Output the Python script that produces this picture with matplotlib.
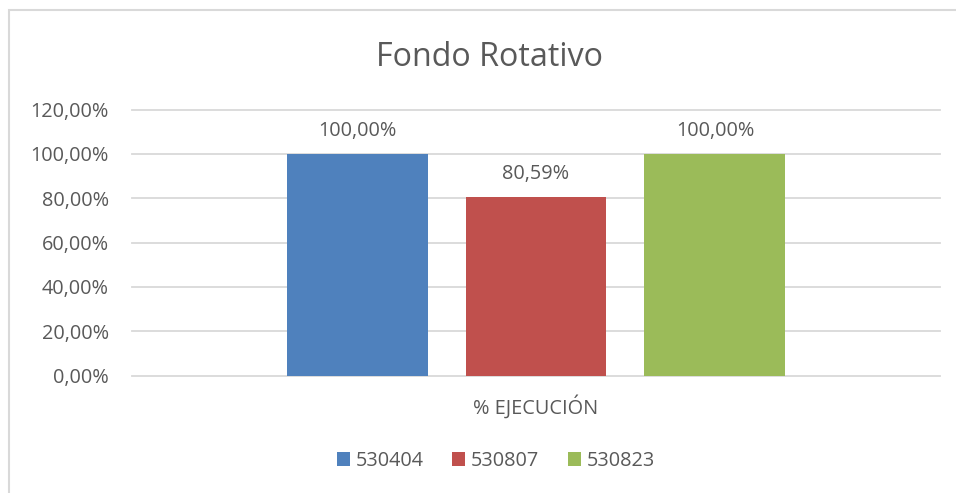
import matplotlib.pyplot as plt
from matplotlib.patches import Patch, Rectangle
from matplotlib.ticker import FuncFormatter

plt.rcParams['font.family'] = ['Open Sans', 'DejaVu Sans']

# datos del fondo rotativo
cuentas = ['530404', '530807', '530823']
ejecucion = [1.00, 0.8059, 1.00]
colores = ['#4f81bd', '#c0504d', '#9bbb59']
categoria = '% EJECUCIÓN'

texto = '#595959'
rejilla = '#d9d9d9'
fs = 14.3

fig = plt.figure(figsize=(9.56, 4.93), dpi=100)

# marco del grafico
fig.patches.append(Rectangle((9 / 956, -0.1), 1.2, (493 - 10) / 493 + 0.1,
                             transform=fig.transFigure, fill=False,
                             edgecolor=rejilla, linewidth=1.5))

ax = fig.add_axes([132 / 956, 117.5 / 493, 808 / 956, 266 / 493])

ancho = 0.1745
paso = 0.2215
for i, (c, v, col) in enumerate(zip(cuentas, ejecucion, colores)):
    x = (i - 1) * paso
    ax.bar(x, v, width=ancho, color=col, zorder=3)
    ax.text(x, v + 0.105, f'{v * 100:.2f}%'.replace('.', ','), ha='center', va='center',
            fontsize=fs, color=texto)

ax.set_xlim(-0.5, 0.5)
ax.set_ylim(0, 1.2)
yticks = [0, 0.2, 0.4, 0.6, 0.8, 1.0, 1.2]
ax.set_yticks(yticks)
ax.yaxis.set_major_formatter(FuncFormatter(lambda v, p: f'{v * 100:.2f}%'.replace('.', ',')))
for y in yticks:
    ax.axhline(y, color=rejilla, linewidth=1.3, clip_on=False, zorder=1)

ax.set_xticks([0])
ax.set_xticklabels([categoria])
ax.tick_params(axis='both', length=0, labelsize=fs, labelcolor=texto)
ax.tick_params(axis='y', pad=16.5)
ax.tick_params(axis='x', pad=14)
for s in ax.spines.values():
    s.set_visible(False)

fig.suptitle('Fondo Rotativo', x=489 / 956, y=1 - 57 / 493, va='center',
             fontsize=23.2, color=texto)

handles = [Patch(facecolor=col, label=c) for c, col in zip(cuentas, colores)]
fig.legend(handles=handles, loc='center', bbox_to_anchor=(496 / 956, 1 - 461 / 493),
           ncol=3, frameon=False, fontsize=fs, labelcolor=texto,
           handlelength=0.65, handleheight=0.65, handletextpad=0.3, columnspacing=1.45)

fig.savefig('out.png', dpi=100)
